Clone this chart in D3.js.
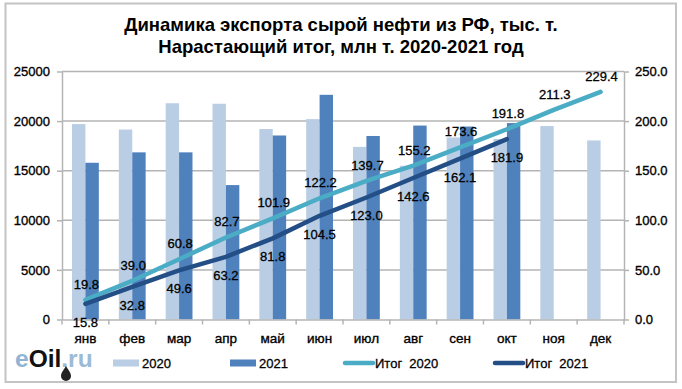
<!DOCTYPE html>
<html><head><meta charset="utf-8">
<script src="https://cdn.jsdelivr.net/npm/d3@7"></script>
<style>
html,body{margin:0;padding:0;background:#fff}
svg{display:block}
text{font-family:"Liberation Sans",Arial,sans-serif;fill:#000}
.num{font-size:13px;stroke:#000;stroke-width:.3px}
.tick text{font-size:13px;stroke:#000;stroke-width:.35px}
</style></head><body>
<svg id="c" width="682" height="389"></svg>
<script>
const months=["янв","фев","мар","апр","май","июн","июл","авг","сен","окт","ноя","дек"];
const export2020=[19700,19150,21800,21750,19200,20200,17400,15500,18350,18200,19500,18050];
const export2021=[15800,16850,16850,13550,18550,22650,18500,19550,19450,19800];
const total2020=[19.8,39.0,60.8,82.7,101.9,122.2,139.7,155.2,173.6,191.8,211.3,229.4];
const total2021=[15.8,32.8,49.6,63.2,81.8,104.5,123.0,142.6,162.1,181.9];
const leftTicks=[0,5000,10000,15000,20000,25000];
const rightTicks=[0,50,100,150,200,250];
const titleLines=["Динамика экспорта сырой нефти из РФ, тыс. т.","Нарастающий итог, млн т. 2020-2021 год"];
const colors={b20:"#B9CDE5",b21:"#4F81BD",l20:"#4BACC6",l21:"#234F86",grid:"#B4B4B4"};

const svg=d3.select("#c");
const m={l:62,r:624,t:71.5,b:319.5};
const x=d3.scaleBand().domain(months).range([m.l,m.r]);
const inner=d3.scaleBand().domain(["a","b"]).range([-13.4,13.4]);
const yL=d3.scaleLinear().domain([0,25000]).range([m.b,m.t]);
const yR=d3.scaleLinear().domain([0,250]).range([m.b,m.t]);
const cx=i=>x(months[i])+x.bandwidth()/2;

svg.append("rect").attr("x",5.5).attr("y",3.5).attr("width",670.5).attr("height",378.5)
  .attr("fill","#fff").attr("stroke","#C4C4C4").attr("stroke-width",2);

svg.append("g").selectAll("text").data(titleLines).join("text")
  .attr("x",341).attr("y",(d,i)=>31+i*21.5).attr("text-anchor","middle")
  .attr("font-size",18.5).attr("font-weight","bold").text(d=>d);

// gridlines
svg.append("g").selectAll("line").data(leftTicks.slice(1)).join("line")
  .attr("x1",m.l).attr("x2",m.r).attr("y1",d=>yL(d)).attr("y2",d=>yL(d))
  .attr("stroke",colors.grid).attr("stroke-width",1.5);

// bars
svg.append("g").selectAll("rect").data(export2020).join("rect")
  .attr("x",(d,i)=>cx(i)+inner("a")).attr("width",inner.bandwidth())
  .attr("y",d=>yL(d)).attr("height",d=>m.b-yL(d)).attr("fill",colors.b20);
svg.append("g").selectAll("rect").data(export2021).join("rect")
  .attr("x",(d,i)=>cx(i)+inner("b")).attr("width",inner.bandwidth())
  .attr("y",d=>yL(d)).attr("height",d=>m.b-yL(d)).attr("fill",colors.b21);

// axes
function styleAxis(g){
  g.selectAll("path").attr("stroke",colors.grid).attr("stroke-width",1.5);
  g.selectAll("line").attr("stroke",colors.grid).attr("stroke-width",1.5);
}
svg.append("g").attr("transform",`translate(${m.l},0)`)
  .call(d3.axisLeft(yL).tickValues(leftTicks).tickSize(5).tickSizeOuter(0).tickPadding(7).tickFormat(d3.format("d")))
  .call(styleAxis);
svg.append("g").attr("transform",`translate(${m.r},0)`)
  .call(d3.axisRight(yR).tickValues(rightTicks).tickSize(5).tickSizeOuter(0).tickPadding(6).tickFormat(d3.format(".1f")))
  .call(styleAxis);
const xAxis=svg.append("g").attr("transform",`translate(0,${m.b})`)
  .call(d3.axisBottom(x).tickSize(0).tickPadding(14));
styleAxis(xAxis);
xAxis.selectAll(".tick text").attr("dy",".71em").style("font-size","13.5px");
svg.append("g").selectAll("line").data(d3.range(months.length+1)).join("line")
  .attr("x1",i=>m.l+i*x.step()).attr("x2",i=>m.l+i*x.step())
  .attr("y1",m.b).attr("y2",m.b+5).attr("stroke",colors.grid).attr("stroke-width",1.5);

// lines
const line=d3.line().x((d,i)=>cx(i)).y(d=>yR(d));
[[total2020,colors.l20],[total2021,colors.l21]].forEach(([d,c])=>{
  svg.append("path").datum(d).attr("d",line).attr("fill","none").attr("stroke",c)
    .attr("stroke-width",4.5).attr("stroke-linecap","round").attr("stroke-linejoin","round");
});

// data labels
svg.append("g").selectAll("text").data(total2020).join("text").attr("class","num")
  .attr("x",(d,i)=>cx(i)+1).attr("y",d=>yR(d)-11).attr("text-anchor","middle").text(d=>d.toFixed(1));
svg.append("g").selectAll("text").data(total2021).join("text").attr("class","num")
  .attr("x",(d,i)=>cx(i)).attr("y",d=>yR(d)+23).attr("text-anchor","middle").text(d=>d.toFixed(1));

// legend
const ly=363;
const legend=svg.append("g");
[["2020",113,colors.b20],["2021",230,colors.b21]].forEach(([t,lx,c])=>{
  legend.append("rect").attr("x",lx).attr("y",ly-3.5).attr("width",26).attr("height",7).attr("fill",c);
  legend.append("text").attr("class","num").attr("x",lx+29).attr("y",ly+5).text(t);
});
[["Итог  2020",345,colors.l20],["Итог  2021",495,colors.l21]].forEach(([t,lx,c])=>{
  legend.append("line").attr("x1",lx).attr("x2",lx+28).attr("y1",ly).attr("y2",ly)
    .attr("stroke",c).attr("stroke-width",4.5).attr("stroke-linecap","round");
  legend.append("text").attr("class","num").attr("x",lx+30).attr("y",ly+5)
    .style("white-space","pre").text(t);
});

// logo
const logo=svg.append("text").attr("x",15).attr("y",367).attr("font-size",24.5).attr("font-weight","bold");
logo.append("tspan").attr("style","fill:#8FB4D3").text("e");
logo.append("tspan").attr("style","fill:#111").text("Oil");
logo.append("tspan").attr("style","fill:#9DBBD6").text(".ru");
svg.append("path").attr("d","M66 366 C63 371 61 373 61 376 A5 5 0 0 0 71 376 C71 373 69 371 66 366Z").attr("fill","#222");
</script>
</body></html>
